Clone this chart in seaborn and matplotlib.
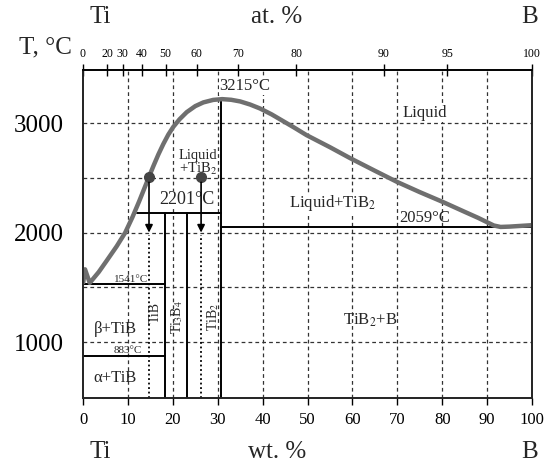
#!/usr/bin/env python3
"""
Ti-B phase diagram (wt. % bottom, at. % top).
"""

import numpy as np
import matplotlib
matplotlib.use('Agg')
import matplotlib.pyplot as plt
import seaborn as sns

# liquidus curve (wt. % B, T in C)
liq_wt = [0.05, 0.45, 1.5, 3.5, 5.3, 7.5, 9.4, 11.0, 12.5, 14.7, 15.7, 16.8,
          17.9, 19.0, 20.1, 21.5, 23.1, 25.0, 26.8, 29.0, 31.0, 33.0, 35.0,
          37.2, 39.4, 42.0, 44.5, 47.0, 49.8, 55.0, 59.5, 65.0, 69.9, 75.0,
          80.2, 85.0, 88.0, 90.0, 91.5, 93.0, 95.0, 100.0]
liq_T = [1545, 1665, 1541, 1640, 1745, 1875, 2000, 2140, 2285, 2510, 2610, 2715,
         2810, 2895, 2965, 3035, 3100, 3155, 3189, 3212, 3219, 3213, 3198,
         3170, 3134, 3080, 3020, 2960, 2890, 2780, 2680, 2565, 2464, 2370,
         2279, 2190, 2135, 2095, 2065, 2052, 2055, 2068]

# compounds (wt. % B)
tib_wt = 18.2
ti3b4_wt = 23.1
tib2_wt = 30.7

# invariant temperatures as drawn
t_peritectic = 2180
t_eutectic_b = 2050
t_eutectic_ti = 1535
t_ab = 870
t_peak = 3215

# the two alloys marked with dots
alloy_wt = [14.7, 26.3]
alloy_T = 2510
arrow_T = 1975

# top axis: atomic percent labels
at_labels = [0, 20, 30, 40, 50, 60, 70, 80, 90, 95, 100]
M_TI, M_B = 47.867, 10.811

ymin, ymax = 490, 3485


def at_to_wt(a):
    a = np.asarray(a, dtype=float)
    return 100 * a * M_B / (a * M_B + (100 - a) * M_TI)


sns.set_theme(style='white')
plt.rcParams['font.family'] = ['Liberation Serif', 'DejaVu Serif']
plt.rcParams['mathtext.fontset'] = 'stix'

fig = plt.figure(figsize=(5.5, 4.66), dpi=100)
ax = fig.add_axes([83 / 550, 1 - 398 / 466, 449 / 550, 328 / 466])

ax.set_xlim(0, 100)
ax.set_ylim(ymin, ymax)

# grid
grid_kw = dict(color='#333333', lw=0.9, ls=(0, (3, 2.5)), zorder=1)
for t in [1000, 1500, 2000, 2500, 3000]:
    ax.axhline(t, **grid_kw)
for w in range(10, 100, 10):
    ax.axvline(w, **grid_kw)

# liquidus
sns.lineplot(x=liq_wt, y=liq_T, sort=False, color='#6f6f6f', lw=3.2,
             ax=ax, zorder=4, solid_capstyle='round', solid_joinstyle='round')

line_kw = dict(color='black', lw=1.4, zorder=3)
ax.plot([tib_wt, tib_wt], [ymin, t_peritectic], **line_kw)
ax.plot([ti3b4_wt, ti3b4_wt], [ymin, t_peritectic], **line_kw)
ax.plot([tib2_wt, tib2_wt], [ymin, t_peak], **line_kw)
ax.plot([12.0, tib2_wt], [t_peritectic, t_peritectic], **line_kw)
ax.plot([tib2_wt, 100], [t_eutectic_b, t_eutectic_b], **line_kw)
ax.plot([0, tib_wt], [t_eutectic_ti, t_eutectic_ti], **line_kw)
ax.plot([0, tib_wt], [t_ab, t_ab], **line_kw)

# alloys: dots, arrows, dotted verticals
for w in alloy_wt:
    ax.plot([w], [alloy_T], 'o', color='#444444', ms=7, zorder=5)
    ax.annotate('', xy=(w, arrow_T), xytext=(w, alloy_T - 25),
                arrowprops=dict(arrowstyle='-|>', color='black', lw=1.2,
                                mutation_scale=11), zorder=5)
    ax.plot([w, w], [ymin, arrow_T], color='black', lw=1.3,
            ls=(0, (1, 1.5)), zorder=3)

# ticks
ax.set_xticks(range(0, 101, 10))
ax.set_yticks([1000, 2000, 3000])
ax.tick_params(axis='x', direction='out', length=5, width=1, pad=5,
               labelsize=12, colors='black', bottom=True)
ax.tick_params(axis='y', length=0, pad=14, labelsize=18, colors='black')
for s in ax.spines.values():
    s.set_color('black')
    s.set_linewidth(1.1)

top = ax.twiny()
top.set_xlim(0, 100)
top.set_xticks(at_to_wt(at_labels))
top.set_xticklabels([str(a) for a in at_labels])
top.tick_params(axis='x', direction='inout', length=8, width=1, pad=3,
                labelsize=8.5, colors='black', top=True)
top.spines['top'].set_color('black')

# labels inside
bw = dict(facecolor='white', edgecolor='none', pad=0.5)
deg = '\u00b0C'
ax.text(36.1, 3340, '3215' + deg, ha='center', va='center', fontsize=12, bbox=bw)
ax.text(76.2, 3091, 'Liquid', ha='center', va='center', fontsize=12, bbox=bw)
ax.text(29.8, 2700, 'Liquid', ha='right', va='center', fontsize=10.5)
ax.text(29.8, 2580, '+TiB$_2$', ha='right', va='center', fontsize=10.5)
ax.text(23.2, 2300, '2201' + deg, ha='center', va='center', fontsize=13, bbox=bw)
ax.text(55.5, 2269, 'Liquid+TiB$_2$', ha='center', va='center', fontsize=12, bbox=bw)
ax.text(76.2, 2132, '2059' + deg, ha='center', va='center', fontsize=12)
ax.text(10.7, 1575, '1541' + deg, ha='center', va='center', fontsize=8)
ax.text(10.0, 925, '883' + deg, ha='center', va='center', fontsize=8)
ax.text(7.1, 1119, '\u03b2+TiB', ha='center', va='center', fontsize=12)
ax.text(7.1, 671, '\u03b1+TiB', ha='center', va='center', fontsize=12)
ax.text(16.0, 1274, 'TiB', ha='center', va='center', fontsize=10, rotation=90)
ax.text(20.9, 1228, 'Ti$_3$B$_4$', ha='center', va='center', fontsize=10, rotation=90)
ax.text(29.0, 1228, 'TiB$_2$', ha='center', va='center', fontsize=10, rotation=90)
ax.text(63.9, 1201, 'TiB$_2$+B', ha='center', va='center', fontsize=12)

# figure level titles
W, H = 550, 466
fig.text(100 / W, 1 - 17 / H, 'Ti', ha='center', va='center', fontsize=18)
fig.text(277 / W, 1 - 17 / H, 'at. %', ha='center', va='center', fontsize=18)
fig.text(530 / W, 1 - 17 / H, 'B', ha='center', va='center', fontsize=18)
fig.text(45 / W, 1 - 47 / H, 'T, \u00b0C', ha='center', va='center', fontsize=18)
fig.text(100 / W, 1 - 452 / H, 'Ti', ha='center', va='center', fontsize=18)
fig.text(277 / W, 1 - 452 / H, 'wt. %', ha='center', va='center', fontsize=18)
fig.text(530 / W, 1 - 452 / H, 'B', ha='center', va='center', fontsize=18)

fig.savefig('out.png', dpi=100, facecolor='white')
plt.close(fig)
